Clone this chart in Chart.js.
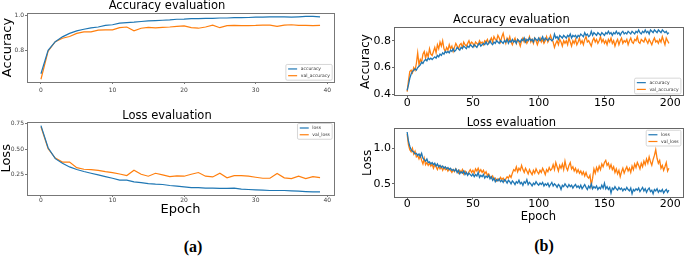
<!DOCTYPE html>
<html>
<head>
<meta charset="utf-8">
<script src="https://cdn.jsdelivr.net/npm/chart.js@4.4.1/dist/chart.umd.min.js"></script>
<style>
  html, body { margin: 0; padding: 0; background: #fff; }
  #page { position: relative; width: 685px; height: 256px; overflow: hidden; }
  canvas { position: absolute; }
  .tag { position: absolute; font-family: 'Liberation Serif', serif; font-weight: bold; font-size: 16px; color: #000; transform: translate(-50%, -50%); }
</style>
</head>
<body>
<div id="page">
  <canvas id="accA" width="340" height="96" style="left:0;top:0"></canvas>
  <canvas id="lossA" width="340" height="120" style="left:0;top:100px"></canvas>
  <canvas id="accB" width="345" height="112" style="left:340px;top:0"></canvas>
  <canvas id="lossB" width="345" height="112" style="left:340px;top:112px"></canvas>
  <div class="tag" style="left:193px;top:247px">(a)</div>
  <div class="tag" style="left:544px;top:246px">(b)</div>
</div>
<script>
// ---- (a) 40 epochs ----
const leftEpochTicks = [0, 10, 20, 30, 40];
const leftAccTicks = [0.8, 1.0];
const leftLossTicks = [0.25, 0.5, 0.75];

const leftAccuracy = [
  0.665, 0.80, 0.85, 0.878, 0.898, 0.913, 0.922, 0.93, 0.935, 0.944,
  0.948, 0.957, 0.96, 0.963, 0.967, 0.97, 0.972, 0.974, 0.976, 0.98,
  0.981, 0.983, 0.983, 0.985, 0.985, 0.987, 0.987, 0.989, 0.989, 0.99,
  0.992, 0.992, 0.994, 0.994, 0.994, 0.992, 0.994, 0.996, 0.996, 0.994
];
const leftValAccuracy = [
  0.633, 0.795, 0.85, 0.87, 0.88, 0.898, 0.907, 0.907, 0.917, 0.918,
  0.918, 0.931, 0.935, 0.913, 0.928, 0.933, 0.93, 0.933, 0.935, 0.939,
  0.941, 0.931, 0.928, 0.935, 0.946, 0.931, 0.943, 0.944, 0.943, 0.943,
  0.944, 0.946, 0.946, 0.939, 0.946, 0.948, 0.944, 0.944, 0.943, 0.944
];
const leftLoss = [
  0.73, 0.513, 0.406, 0.36, 0.325, 0.30, 0.28, 0.263, 0.247, 0.23,
  0.214, 0.195, 0.195, 0.179, 0.172, 0.162, 0.156, 0.153, 0.143, 0.136,
  0.13, 0.123, 0.123, 0.117, 0.117, 0.114, 0.114, 0.117, 0.107, 0.104,
  0.10, 0.097, 0.094, 0.094, 0.094, 0.091, 0.088, 0.084, 0.081, 0.081
];
const leftValLoss = [
  0.718, 0.503, 0.412, 0.373, 0.373, 0.318, 0.302, 0.299, 0.292, 0.279,
  0.27, 0.256, 0.24, 0.292, 0.253, 0.234, 0.263, 0.247, 0.23, 0.237,
  0.234, 0.253, 0.27, 0.234, 0.227, 0.263, 0.218, 0.24, 0.24, 0.234,
  0.224, 0.214, 0.214, 0.26, 0.218, 0.211, 0.234, 0.211, 0.23, 0.22
];

// ---- (b) 200 epochs ----
const rightEpochTicks = [0, 50, 100, 150, 200];
const rightAccTicks = [0.4, 0.6, 0.8];
const rightLossTicks = [0.5, 1.0];

const rightAccuracy = [
  0.43, 0.47, 0.52, 0.55, 0.57, 0.58, 0.59, 0.58, 0.60, 0.61,
  0.62, 0.64, 0.63, 0.65, 0.66, 0.65, 0.67, 0.66, 0.67, 0.66,
  0.67, 0.68, 0.67, 0.69, 0.68, 0.70, 0.69, 0.71, 0.70, 0.72,
  0.71, 0.72, 0.71, 0.73, 0.72, 0.74, 0.72, 0.73, 0.75, 0.74,
  0.73, 0.75, 0.74, 0.76, 0.75, 0.74, 0.76, 0.75, 0.77, 0.76,
  0.75, 0.77, 0.76, 0.75, 0.77, 0.78, 0.76, 0.77, 0.78, 0.77,
  0.79, 0.77, 0.78, 0.80, 0.78, 0.77, 0.79, 0.78, 0.80, 0.79,
  0.78, 0.80, 0.79, 0.78, 0.80, 0.79, 0.81, 0.78, 0.80, 0.79,
  0.81, 0.79, 0.80, 0.78, 0.81, 0.80, 0.79, 0.81, 0.80, 0.82,
  0.79, 0.81, 0.80, 0.82, 0.80, 0.81, 0.79, 0.82, 0.81, 0.80,
  0.82, 0.80, 0.81, 0.83, 0.80, 0.82, 0.81, 0.80, 0.82, 0.81,
  0.80, 0.81, 0.85, 0.82, 0.83, 0.81, 0.84, 0.83, 0.82, 0.84,
  0.83, 0.82, 0.84, 0.83, 0.85, 0.82, 0.84, 0.83, 0.84, 0.82,
  0.84, 0.83, 0.85, 0.84, 0.83, 0.86, 0.84, 0.85, 0.83, 0.84,
  0.87, 0.84, 0.86, 0.85, 0.84, 0.86, 0.85, 0.84, 0.86, 0.85,
  0.84, 0.86, 0.85, 0.87, 0.85, 0.86, 0.84, 0.86, 0.85, 0.87,
  0.85, 0.86, 0.84, 0.86, 0.87, 0.85, 0.86, 0.85, 0.87, 0.86,
  0.85, 0.87, 0.86, 0.85, 0.87, 0.86, 0.88, 0.86, 0.85, 0.87,
  0.86, 0.88, 0.86, 0.87, 0.85, 0.88, 0.87, 0.86, 0.88, 0.87,
  0.86, 0.88, 0.87, 0.86, 0.88, 0.87, 0.86, 0.87, 0.85, 0.86
];
const rightValAccuracy = [
  0.42, 0.50, 0.57, 0.58, 0.56, 0.60, 0.58, 0.63, 0.71, 0.62,
  0.66, 0.64, 0.70, 0.72, 0.67, 0.71, 0.68, 0.74, 0.70, 0.69,
  0.72, 0.75, 0.71, 0.77, 0.74, 0.79, 0.76, 0.80, 0.74, 0.72,
  0.75, 0.73, 0.77, 0.74, 0.76, 0.72, 0.75, 0.78, 0.76, 0.74,
  0.77, 0.78, 0.75, 0.79, 0.77, 0.76, 0.78, 0.80, 0.77, 0.79,
  0.78, 0.76, 0.79, 0.78, 0.77, 0.80, 0.78, 0.79, 0.77, 0.80,
  0.79, 0.81, 0.78, 0.80, 0.82, 0.79, 0.83, 0.81, 0.80, 0.84,
  0.82, 0.79, 0.83, 0.855, 0.81, 0.78, 0.82, 0.80, 0.83, 0.79,
  0.77, 0.80, 0.82, 0.78, 0.81, 0.79, 0.76, 0.80, 0.82, 0.79,
  0.81, 0.78, 0.80, 0.83, 0.79, 0.81, 0.78, 0.82, 0.80, 0.77,
  0.80, 0.82, 0.79, 0.81, 0.78, 0.80, 0.83, 0.79, 0.81, 0.84,
  0.81, 0.79, 0.75, 0.78, 0.80, 0.77, 0.81, 0.79, 0.76, 0.80,
  0.78, 0.80, 0.77, 0.82, 0.79, 0.76, 0.80, 0.78, 0.81, 0.77,
  0.79, 0.82, 0.78, 0.80, 0.77, 0.81, 0.83, 0.79, 0.80, 0.78,
  0.76, 0.80, 0.82, 0.79, 0.81, 0.78, 0.80, 0.83, 0.79, 0.81,
  0.78, 0.80, 0.77, 0.81, 0.79, 0.82, 0.78, 0.80, 0.76, 0.79,
  0.81, 0.77, 0.80, 0.82, 0.78, 0.80, 0.79, 0.81, 0.77, 0.80,
  0.82, 0.79, 0.78, 0.81, 0.80, 0.83, 0.79, 0.78, 0.81, 0.80,
  0.79, 0.82, 0.80, 0.78, 0.81, 0.79, 0.77, 0.80, 0.82, 0.79,
  0.80, 0.78, 0.81, 0.79, 0.83, 0.80, 0.77, 0.82, 0.80, 0.78
];
const rightLoss = [
  1.23, 1.10, 1.03, 0.98, 0.96, 0.95, 0.92, 0.93, 0.90, 0.92,
  0.88, 0.93, 0.86, 0.84, 0.82, 0.85, 0.80, 0.81, 0.78, 0.80,
  0.77, 0.79, 0.75, 0.78, 0.74, 0.76, 0.73, 0.75, 0.72, 0.74,
  0.71, 0.73, 0.70, 0.72, 0.69, 0.70, 0.68, 0.71, 0.66, 0.69,
  0.64, 0.67, 0.65, 0.68, 0.63, 0.66, 0.62, 0.65, 0.63, 0.61,
  0.64, 0.60, 0.63, 0.61, 0.66, 0.59, 0.62, 0.60, 0.63, 0.58,
  0.61, 0.59, 0.62, 0.57, 0.60, 0.55, 0.58, 0.53, 0.56, 0.54,
  0.57, 0.53, 0.55, 0.52, 0.56, 0.54, 0.51, 0.55, 0.53, 0.50,
  0.54, 0.52, 0.49, 0.53, 0.51, 0.55, 0.50, 0.52, 0.48, 0.53,
  0.51, 0.56, 0.49, 0.52, 0.50, 0.47, 0.51, 0.49, 0.53, 0.50,
  0.48, 0.51, 0.49, 0.52, 0.47, 0.50, 0.48, 0.51, 0.46, 0.49,
  0.52, 0.47, 0.50, 0.48, 0.45, 0.49, 0.47, 0.42, 0.48, 0.46,
  0.50, 0.47, 0.45, 0.49, 0.46, 0.48, 0.44, 0.47, 0.49, 0.45,
  0.47, 0.44, 0.48, 0.43, 0.46, 0.49, 0.45, 0.42, 0.47, 0.44,
  0.50, 0.43, 0.46, 0.44, 0.47, 0.42, 0.45, 0.43, 0.48, 0.44,
  0.51, 0.43, 0.46, 0.42, 0.45, 0.37, 0.44, 0.42, 0.46, 0.43,
  0.41, 0.45, 0.42, 0.44, 0.40, 0.43, 0.41, 0.45, 0.42, 0.40,
  0.44, 0.36, 0.42, 0.40, 0.43, 0.41, 0.44, 0.39, 0.42, 0.45,
  0.40, 0.43, 0.38, 0.42, 0.44, 0.39, 0.41, 0.36, 0.42, 0.40,
  0.43, 0.38, 0.41, 0.39, 0.42, 0.37, 0.40, 0.42, 0.38, 0.41
];
const rightValLoss = [
  1.20, 1.05, 0.98, 0.95, 1.00, 0.92, 0.96, 0.88, 0.90, 0.85,
  0.90, 0.83, 0.78, 0.86, 0.77, 0.80, 0.76, 0.79, 0.75, 0.78,
  0.72, 0.77, 0.74, 0.70, 0.75, 0.71, 0.74, 0.69, 0.73, 0.70,
  0.72, 0.68, 0.71, 0.69, 0.66, 0.70, 0.67, 0.71, 0.68, 0.65,
  0.69, 0.66, 0.70, 0.64, 0.68, 0.65, 0.63, 0.67, 0.70, 0.66,
  0.69, 0.65, 0.71, 0.68, 0.72, 0.67, 0.70, 0.66, 0.69, 0.64,
  0.67, 0.62, 0.64, 0.60, 0.58, 0.61, 0.56, 0.58, 0.54, 0.57,
  0.55, 0.59, 0.56, 0.58, 0.54, 0.57, 0.60, 0.58, 0.62, 0.59,
  0.65, 0.70, 0.68, 0.74, 0.67, 0.72, 0.69, 0.76, 0.70, 0.66,
  0.72, 0.68, 0.64, 0.70, 0.66, 0.63, 0.69, 0.65, 0.71, 0.67,
  0.64, 0.69, 0.66, 0.72, 0.68, 0.63, 0.70, 0.67, 0.73, 0.69,
  0.71, 0.77, 0.70, 0.80, 0.74, 0.68, 0.76, 0.72, 0.78, 0.70,
  0.82, 0.73, 0.69, 0.76, 0.80, 0.71, 0.74, 0.68, 0.72, 0.66,
  0.70, 0.65, 0.68, 0.63, 0.67, 0.61, 0.66, 0.60, 0.58, 0.62,
  0.48, 0.58, 0.71, 0.65, 0.73, 0.68, 0.75, 0.70, 0.78, 0.74,
  0.80, 0.83, 0.76, 0.79, 0.72, 0.77, 0.70, 0.74, 0.66, 0.71,
  0.64, 0.69, 0.60, 0.67, 0.72, 0.65, 0.70, 0.74, 0.68, 0.72,
  0.66, 0.75, 0.70, 0.78, 0.73, 0.80, 0.76, 0.71, 0.79, 0.74,
  0.82, 0.77, 0.85, 0.79, 0.88, 0.81, 0.76, 0.84, 0.90, 0.98,
  0.86, 0.79, 0.83, 0.72, 0.76, 0.69, 0.74, 0.80, 0.68, 0.72
];

const BLUE = '#1f77b4';
const ORANGE = '#ff7f0e';

// box around the plot area, like matplotlib spines
const frameBox = {
    id: 'frameBox',
    afterDatasetsDraw(chart, args, opts) {
        const { ctx, chartArea: a } = chart;
        ctx.save();
        ctx.strokeStyle = opts.color || '#888';
        ctx.lineWidth = 1;
        ctx.strokeRect(Math.round(a.left) + 0.5, Math.round(a.top) + 0.5,
            Math.round(a.right - a.left), Math.round(a.bottom - a.top));
        ctx.restore();
    },
};

// small legend drawn inside the plot area
const innerLegend = {
    id: 'innerLegend',
    afterDraw(chart, args, opts) {
        const { ctx, chartArea: a } = chart;
        const fs = opts.size || 4.5;
        const items = chart.data.datasets;
        ctx.save();
        ctx.font = fs + 'px "DejaVu Sans"';
        const textW = Math.max(...items.map(d => ctx.measureText(d.label).width));
        const pad = fs * 0.5, handle = fs * 2, gap = fs * 0.8, margin = fs * 0.4;
        const w = pad * 2 + handle + gap + textW;
        const h = pad * 2 + fs * items.length + fs * 0.5 * (items.length - 1);
        const corner = opts.corner || 'lower right';
        const x = corner.includes('right') ? a.right - margin - w : a.left + margin;
        const y = corner.includes('lower') ? a.bottom - margin - h : a.top + margin;
        ctx.beginPath();
        ctx.roundRect(x, y, w, h, fs * 0.3);
        ctx.fillStyle = 'rgba(255,255,255,0.8)';
        ctx.fill();
        ctx.strokeStyle = '#cccccc';
        ctx.lineWidth = 0.8;
        ctx.stroke();
        items.forEach((d, i) => {
            const cy = y + pad + fs / 2 + i * fs * 1.5;
            ctx.strokeStyle = d.borderColor;
            ctx.lineWidth = 1.2;
            ctx.beginPath();
            ctx.moveTo(x + pad, cy);
            ctx.lineTo(x + pad + handle, cy);
            ctx.stroke();
            ctx.fillStyle = '#333';
            ctx.textBaseline = 'middle';
            ctx.fillText(d.label, x + pad + handle + gap, cy);
        });
        ctx.restore();
    },
};

function buildChart(canvasId, o) {
    const canvas = document.getElementById(canvasId);
    const tickFont = { family: 'DejaVu Sans', size: o.tickSize };
    return new Chart(canvas.getContext('2d'), {
        type: 'line',
        data: {
            datasets: o.series.map(s => ({
                label: s.label,
                data: s.values.map((v, i) => ({ x: i, y: v })),
                borderColor: s.color,
                backgroundColor: s.color,
                borderWidth: o.lineWidth,
                pointRadius: 0,
                tension: 0,
                fill: false,
            })),
        },
        options: {
            responsive: false,
            animation: false,
            layout: { padding: { left: 0, right: o.padRight, top: 0, bottom: 0 } },
            plugins: {
                legend: { display: false },
                tooltip: { enabled: false },
                title: {
                    display: true, text: o.title, color: '#000',
                    font: { family: 'DejaVu Sans', size: 11.5, weight: 'normal', lineHeight: 1 },
                    padding: o.titlePad,
                },
                frameBox: { color: o.frame },
                innerLegend: { corner: o.legendCorner, size: 4.5 },
            },
            scales: {
                x: {
                    type: 'linear', min: o.xMin, max: o.xMax,
                    afterBuildTicks: s => { s.ticks = o.xTicks.map(v => ({ value: v })); },
                    afterFit: s => { s.height = o.xHeight; },
                    ticks: { font: tickFont, color: o.tickColor, padding: o.xTickPad, maxRotation: 0, autoSkip: false, callback: v => String(v) },
                    grid: { display: true, drawOnChartArea: false, drawTicks: true, tickLength: o.tickLen, color: o.frame },
                    border: { display: false },
                    title: o.xTitle
                        ? { display: true, text: o.xTitle, color: '#000', font: { family: 'DejaVu Sans', size: o.xTitleSize, lineHeight: 1 }, padding: { top: 0, bottom: o.xTitlePad } }
                        : { display: false },
                },
                y: {
                    min: o.yMin, max: o.yMax,
                    afterBuildTicks: s => { s.ticks = o.yTicks.map(v => ({ value: v })); },
                    afterFit: s => { s.width = o.yWidth; },
                    ticks: { font: tickFont, color: o.tickColor, padding: 1, autoSkip: false, callback: v => v.toFixed(o.yDecimals) },
                    grid: { display: true, drawOnChartArea: false, drawTicks: true, tickLength: o.tickLen, color: o.frame },
                    border: { display: false },
                    title: { display: true, text: o.yTitle, color: '#000', font: { family: 'DejaVu Sans', size: o.yTitleSize, lineHeight: 1 }, padding: { top: o.yTitlePad, bottom: 0 } },
                },
            },
        },
        plugins: [frameBox, innerLegend],
    });
}

buildChart('accA', {
    series: [
        { label: 'accuracy', values: leftAccuracy, color: BLUE },
        { label: 'val_accuracy', values: leftValAccuracy, color: ORANGE },
    ],
    title: 'Accuracy evaluation', titlePad: { top: 0.25, bottom: 1.25 },
    xMin: -1.95, xMax: 40.95, xTicks: leftEpochTicks, xHeight: 14, xTickPad: 2.4,
    yMin: 0.617, yMax: 1.016, yTicks: leftAccTicks, yDecimals: 1, yWidth: 27,
    yTitle: 'Accuracy', yTitleSize: 13, yTitlePad: 1.5,
    tickSize: 6, tickColor: '#444', tickLen: 2, frame: '#777', lineWidth: 1.2,
    padRight: 6, legendCorner: 'lower right',
});

buildChart('lossA', {
    series: [
        { label: 'loss', values: leftLoss, color: BLUE },
        { label: 'val_loss', values: leftValLoss, color: ORANGE },
    ],
    title: 'Loss evaluation', titlePad: { top: 9.95, bottom: 0.25 },
    xMin: -1.95, xMax: 40.95, xTicks: leftEpochTicks, xHeight: 25, xTickPad: 0,
    xTitle: 'Epoch', xTitleSize: 13, xTitlePad: 3.5,
    yMin: 0.05, yMax: 0.768, yTicks: leftLossTicks, yDecimals: 2, yWidth: 27,
    yTitle: 'Loss', yTitleSize: 13, yTitlePad: 0,
    tickSize: 6, tickColor: '#444', tickLen: 2, frame: '#777', lineWidth: 1.2,
    padRight: 6, legendCorner: 'upper right',
});

buildChart('accB', {
    series: [
        { label: 'accuracy', values: rightAccuracy, color: BLUE },
        { label: 'val_accuracy', values: rightValAccuracy, color: ORANGE },
    ],
    title: 'Accuracy evaluation', titlePad: { top: 14.25, bottom: 1.55 },
    xMin: -10, xMax: 209.5, xTicks: rightEpochTicks, xHeight: 16.3, xTickPad: -1.5,
    yMin: 0.39, yMax: 0.90, yTicks: rightAccTicks, yDecimals: 1, yWidth: 54,
    yTitle: 'Accuracy', yTitleSize: 12, yTitlePad: 19.5,
    tickSize: 11, tickColor: '#000', tickLen: 2, frame: '#666', lineWidth: 1.3,
    padRight: 2.3, legendCorner: 'lower right',
});

buildChart('lossB', {
    series: [
        { label: 'loss', values: rightLoss, color: BLUE },
        { label: 'val_loss', values: rightValLoss, color: ORANGE },
    ],
    title: 'Loss evaluation', titlePad: { top: 4.95, bottom: 0 },
    xMin: -10, xMax: 209.5, xTicks: rightEpochTicks, xHeight: 26.7, xTickPad: -1.5,
    xTitle: 'Epoch', xTitleSize: 11.5, xTitlePad: 1,
    yMin: 0.31, yMax: 1.28, yTicks: rightLossTicks, yDecimals: 1, yWidth: 54,
    yTitle: 'Loss', yTitleSize: 12, yTitlePad: 22,
    tickSize: 11, tickColor: '#000', tickLen: 2, frame: '#666', lineWidth: 1.3,
    padRight: 2.3, legendCorner: 'upper right',
});
</script>
</body>
</html>
